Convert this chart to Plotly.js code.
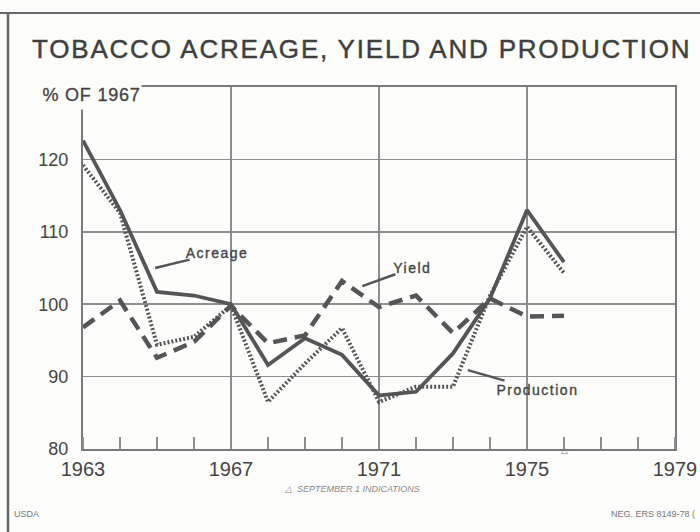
<!DOCTYPE html>
<html>
<head>
<meta charset="utf-8">
<script src="https://cdn.plot.ly/plotly-3.0.1.min.js"></script>
<style>
  html, body { margin: 0; padding: 0; background: #fdfdfb; }
  #chart { width: 700px; height: 532px; }
  .gtitle { letter-spacing: 1.8px; stroke: #3f3f3f; stroke-width: 0.45px; }
  .annotation[data-index="0"] .annotation-text { letter-spacing: 0.8px; stroke: #444; stroke-width: 0.35px; }
  .annotation[data-index="1"] .annotation-text,
  .annotation[data-index="2"] .annotation-text,
  .annotation[data-index="3"] .annotation-text { letter-spacing: 1.5px; stroke: #444; stroke-width: 0.35px; }
</style>
</head>
<body>
<div id="chart"></div>
<script>
// ---- data ----
const years = [1963, 1964, 1965, 1966, 1967, 1968, 1969, 1970, 1971, 1972, 1973, 1974, 1975, 1976];
const acreage = [122.6, 113.0, 101.7, 101.2, 100.0, 91.6, 95.3, 93.0, 87.4, 87.9, 93.2, 100.8, 113.0, 105.8];
const yieldPct = [96.8, 100.5, 92.6, 94.8, 99.8, 94.6, 95.7, 103.2, 99.6, 101.2, 96.0, 100.8, 98.3, 98.4];
const production = [119.2, 112.6, 94.4, 95.5, 99.8, 86.5, 91.8, 96.7, 86.5, 88.6, 88.6, 101.2, 110.7, 104.3];
const xTickVals = [1963, 1967, 1971, 1975, 1979];
const yTickVals = [80, 90, 100, 110, 120];
const seriesNames = ["Acreage", "Yield", "Production"];

const ink = "#555555";
const grid = "#8e8e8e";
const txt = "#444444";
const bg = "#fdfdfb";
const fam = "Liberation Sans, Arial, sans-serif";

const traces = [
  { x: years, y: acreage, name: seriesNames[0], mode: "lines",
    line: { color: ink, width: 3.8 } },
  { x: years, y: yieldPct, name: seriesNames[1], mode: "lines",
    line: { color: ink, width: 4.5, dash: "14px,8px" } },
  { x: years, y: production, name: seriesNames[2], mode: "lines",
    line: { color: ink, width: 4, dash: "2px,2px" } }
];

const layout = {
  width: 700, height: 532,
  paper_bgcolor: bg, plot_bgcolor: bg,
  showlegend: false,
  margin: { l: 83, r: 25, t: 87, b: 83 },
  font: { family: fam, color: txt },
  title: {
    text: "TOBACCO ACREAGE, YIELD AND PRODUCTION",
    xref: "container", x: 32 / 700, xanchor: "left",
    yref: "container", y: 1 - 49 / 532, yanchor: "middle",
    font: { family: fam, size: 26, color: "#3f3f3f" }
  },
  xaxis: {
    range: [1963, 1979], tickvals: xTickVals,
    showgrid: true, gridcolor: grid, gridwidth: 1.5,
    zeroline: false, ticks: "",
    showline: true, mirror: true, linecolor: "#7a7a7a", linewidth: 2,
    tickfont: { family: fam, size: 20, color: txt },
    ticklabelstandoff: 1,
    minor: { dtick: 1, tick0: 1963, ticks: "inside", ticklen: 12,
             tickwidth: 1.5, tickcolor: grid, showgrid: false }
  },
  yaxis: {
    range: [80, 130], tickvals: yTickVals,
    showgrid: true, gridcolor: grid, gridwidth: 1.5,
    zeroline: false, ticks: "",
    showline: true, mirror: true, linecolor: "#7a7a7a", linewidth: 2,
    tickfont: { family: fam, size: 18, color: txt },
    ticklabelstandoff: 9
  },
  shapes: [
    // outer frame of the figure (top and left edges)
    { type: "line", xref: "paper", yref: "paper",
      x0: (0 - 83) / 592, x1: (700 - 83) / 592, y0: (449 - 13) / 362, y1: (449 - 13) / 362,
      line: { color: "#666", width: 2 } },
    { type: "line", xref: "paper", yref: "paper",
      x0: (8 - 83) / 592, x1: (8 - 83) / 592, y0: (449 - 13) / 362, y1: (449 - 532) / 362,
      line: { color: "#666", width: 2.5 } }
  ],
  annotations: [
    { text: "% OF 1967", xref: "paper", yref: "paper",
      x: (41 - 83) / 592, xanchor: "left", y: (449 - 95) / 362, yanchor: "middle",
      showarrow: false, bgcolor: bg, borderpad: 4,
      font: { family: fam, size: 18, color: txt } },
    { text: seriesNames[0], xref: "x", yref: "y", x: 1964.95, y: 105.0,
      ax: 62, ay: -15, showarrow: true, arrowhead: 0, arrowwidth: 2.5, arrowcolor: ink,
      font: { family: fam, size: 14, color: txt } },
    { text: seriesNames[1], xref: "x", yref: "y", x: 1970.55, y: 102.5,
      ax: 50, ay: -18, showarrow: true, arrowhead: 0, arrowwidth: 2.5, arrowcolor: ink,
      font: { family: fam, size: 14, color: txt } },
    { text: seriesNames[2], xref: "x", yref: "y", x: 1973.4, y: 90.9,
      ax: 70, ay: 20, showarrow: true, arrowhead: 0, arrowwidth: 2.5, arrowcolor: ink,
      font: { family: fam, size: 14, color: txt } },
    { text: "△", xref: "x", yref: "paper", x: 1976, y: (449 - 457) / 362,
      showarrow: false, font: { family: fam, size: 9, color: "#777" } },
    { text: "△  SEPTEMBER 1 INDICATIONS", xref: "paper", yref: "paper",
      x: (352 - 83) / 592, y: (449 - 496) / 362, showarrow: false,
      font: { family: fam, size: 9, color: "#888", style: "italic" } },
    { text: "USDA", xref: "paper", yref: "paper",
      x: (12 - 83) / 592, xanchor: "left", y: (449 - 521) / 362, showarrow: false,
      font: { family: fam, size: 9, color: "#777" } },
    { text: "NEG. ERS 8149-78 (", xref: "paper", yref: "paper",
      x: (697 - 83) / 592, xanchor: "right", y: (449 - 521) / 362, showarrow: false,
      font: { family: fam, size: 9, color: "#777" } }
  ]
};

Plotly.newPlot("chart", traces, layout, { displayModeBar: false, staticPlot: true });
</script>
</body>
</html>
